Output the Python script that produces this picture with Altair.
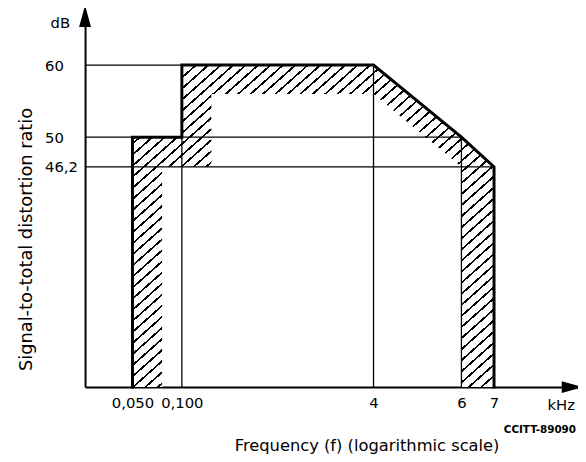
import altair as alt
import pandas as pd

# ---- axis ticks / labels ----
x_ticks = [0.05, 0.1, 4, 6, 7]
x_tick_labels = ["0,050", "0,100", "4", "6", "7"]
y_ticks = [46.2, 50, 60]
y_tick_labels = ["46,2", "50", "60"]

# schematic (non-proportional) axis breakpoints
x_breaks = [0, 0.05, 0.1, 4, 6, 7, 9]
x_break_px = [0, 48, 98, 292, 381, 414, 499]
y_breaks = [0, 46.2, 50, 60, 68]
y_break_px = [381, 158, 128, 55, 0]

# ---- mask outline (kHz, dB) ----
outline_f = [0.05, 0.05, 0.1, 0.1, 4, 6, 7, 7]
outline_db = [0, 50, 50, 60, 60, 50, 46.2, 0]

# ---- hatched band: lower / upper edge ----
hatch_f = [0.05, 0.08, 0.08, 0.1, 0.1, 0.7, 0.7, 4, 6, 6, 7]
hatch_lo = [0, 0, 46.2, 46.2, 46.2, 46.2, 56, 56, 46.2, 0, 0]
hatch_hi = [50, 50, 50, 50, 60, 60, 60, 60, 50, 50, 46.2]

# ---- thin reference lines ----
h_db = [60, 50, 46.2]
h_to = [4, 6, 7]
v_f = [0.1, 4, 6]
v_to = [60, 60, 50]

FONT = "DejaVu Sans"

xs = alt.Scale(type="linear", domain=x_breaks, range=x_break_px, nice=False, zero=False)
ys = alt.Scale(type="linear", domain=y_breaks, range=y_break_px, nice=False, zero=False)

x_expr = " : ".join(f"datum.value == {v} ? '{l}'" for v, l in zip(x_ticks, x_tick_labels)) + " : ''"
y_expr = " : ".join(f"datum.value == {v} ? '{l}'" for v, l in zip(y_ticks, y_tick_labels)) + " : ''"

X_TITLE = "Frequency (f) (logarithmic scale)"
Y_TITLE = "Signal-to-total distortion ratio"

x_axis = alt.Axis(values=x_ticks, labelExpr=x_expr, ticks=False, grid=False,
                  domainColor="black", domainWidth=2, labelFont=FONT, labelFontSize=15,
                  labelColor="black", labelPadding=16, labelBaseline="middle", labelFlush=False,
                  labelOverlap=False,
                  title=X_TITLE, titleFont=FONT, titleFontSize=16.5,
                  titleFontWeight="normal", titleColor="black", titleX=285, titleY=59,
                  titleBaseline="middle", titleAlign="center")
y_axis = alt.Axis(values=y_ticks, labelExpr=y_expr, ticks=False, grid=False,
                  domainColor="black", domainWidth=2, labelFont=FONT, labelFontSize=15,
                  labelColor="black", labelPadding=41, labelAlign="left", labelFlush=False,
                  labelOverlap=False,
                  title=Y_TITLE, titleFont=FONT, titleFontSize=18,
                  titleFontWeight="normal", titleColor="black", titleX=-59, titleY=231,
                  titleBaseline="middle", titleAlign="center")

# hatch texture as a striped gradient
period = 0.0172
black_frac = 0.21
stops = []
k = 0
while k * period < 1:
    s = k * period
    e = min(s + black_frac * period, 1)
    stops += [{"offset": s, "color": "black"}, {"offset": e, "color": "black"},
              {"offset": e, "color": "white"}, {"offset": min(s + period, 1), "color": "white"}]
    k += 1
hatch_fill = {"gradient": "linear", "x1": 0, "y1": 0, "x2": 1, "y2": 1, "stops": stops}

hatch_df = pd.DataFrame({"f": hatch_f, "lo": hatch_lo, "hi": hatch_hi})
hatch = alt.Chart(hatch_df).mark_area(fill=hatch_fill, interpolate="linear").encode(
    x=alt.X("f:Q", scale=xs, axis=x_axis),
    y=alt.Y("lo:Q", scale=ys, axis=y_axis),
    y2="hi:Q",
)

h_df = pd.DataFrame({"db": h_db, "f0": [0] * len(h_db), "f1": h_to})
h_lines = alt.Chart(h_df).mark_rule(color="black", strokeWidth=1.3).encode(
    x=alt.X("f0:Q", scale=xs, axis=x_axis), x2="f1:Q",
    y=alt.Y("db:Q", scale=ys, axis=y_axis),
)
v_df = pd.DataFrame({"f": v_f, "d0": [0] * len(v_f), "d1": v_to})
v_lines = alt.Chart(v_df).mark_rule(color="black", strokeWidth=1.3).encode(
    x=alt.X("f:Q", scale=xs, axis=x_axis),
    y=alt.Y("d0:Q", scale=ys, axis=y_axis), y2="d1:Q",
)

out_df = pd.DataFrame({"f": outline_f, "db": outline_db, "i": list(range(len(outline_f)))})
outline = alt.Chart(out_df).mark_line(color="black", strokeWidth=3, strokeJoin="miter",
                                      strokeCap="square").encode(
    x=alt.X("f:Q", scale=xs, axis=x_axis),
    y=alt.Y("db:Q", scale=ys, axis=y_axis),
    order="i:O",
)

one = alt.Data(values=[{"a": 1}])
arrow_up = alt.Chart(one).mark_point(shape="M0,-1L0.55,1L-0.55,1Z", size=480, filled=True,
                                     color="black", opacity=1).encode(
    x=alt.value(0), y=alt.value(5.5))
arrow_right = alt.Chart(one).mark_point(shape="M1,0L-1,0.55L-1,-0.55Z", size=480, filled=True,
                                        color="black", opacity=1).encode(
    x=alt.value(493.5), y=alt.value(381))

def label(txt, x, y, size=15, weight="normal", align="center"):
    return alt.Chart(one).mark_text(text=txt, font=FONT, fontSize=size, fontWeight=weight,
                                    color="black", align=align, baseline="middle").encode(
        x=alt.value(x), y=alt.value(y))

t_db = label("dB", -25, 12)
t_khz = label("kHz", 482, 399)
t_ccitt = label("CCITT-89090", 497, 424, size=10.5, weight="bold", align="right")

chart = alt.layer(hatch, h_lines, v_lines, outline, arrow_up, arrow_right,
                  t_db, t_khz, t_ccitt).properties(
    width=499, height=381,
    padding={"left": 78, "top": 0, "right": 0, "bottom": 70},
    autosize=alt.AutoSizeParams(type="none"),
    background="white",
).configure_view(stroke=None)

chart.save("out.html", embed_options={"renderer": "svg", "actions": False})
